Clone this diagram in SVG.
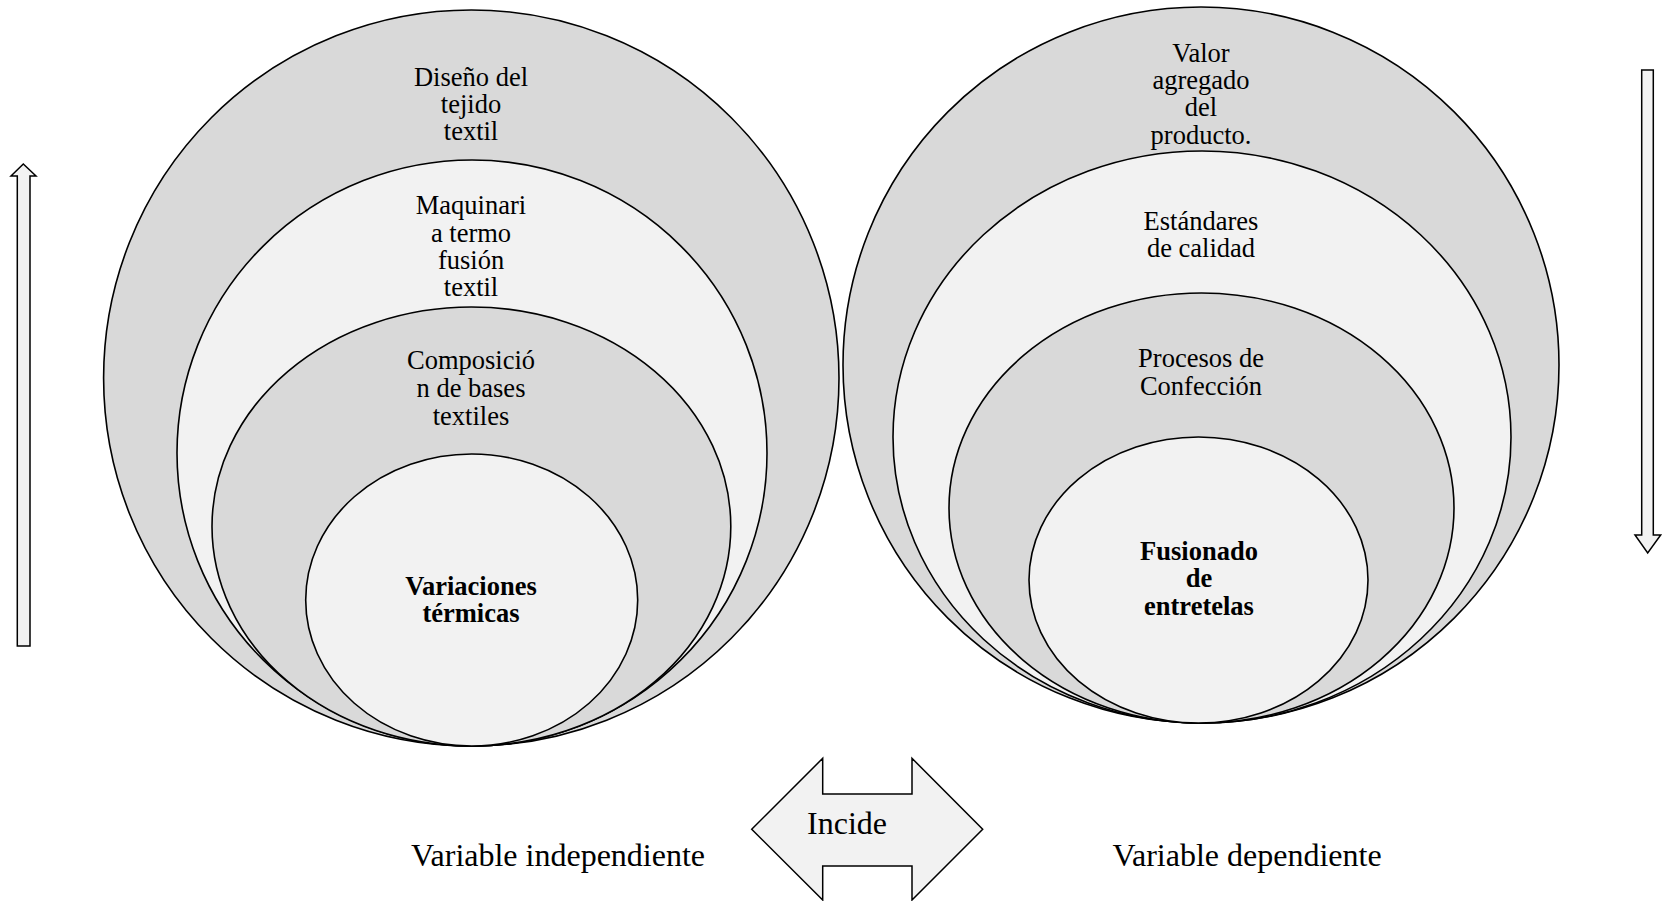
<svg xmlns="http://www.w3.org/2000/svg" width="1664" height="901" viewBox="0 0 1664 901">
<style>
.dk{fill:#d9d9d9;stroke:#000;stroke-width:1.6}
.lt{fill:#f2f2f2;stroke:#000;stroke-width:1.6}
.t{font-family:"Liberation Serif","Times New Roman",serif;font-size:26.5px;fill:#000;text-anchor:middle}
.b{font-weight:bold}
.lab{font-family:"Liberation Serif","Times New Roman",serif;font-size:32px;fill:#000;text-anchor:middle}
.arr{fill:#f2f2f2;stroke:#000;stroke-width:1.5}
</style>
<rect width="1664" height="901" fill="#fff"/>
<g id="left-group">
  <g id="diseno">
    <ellipse class="dk" cx="471.3" cy="378" rx="367.7" ry="368"/>
    <text class="t" x="471" y="86">Diseño del</text>
    <text class="t" x="471" y="113">tejido</text>
    <text class="t" x="471" y="140">textil</text>
  </g>
  <g id="maquinaria">
    <ellipse class="lt" cx="472" cy="453" rx="295" ry="293"/>
    <text class="t" x="471" y="214">Maquinari</text>
    <text class="t" x="471" y="242">a termo</text>
    <text class="t" x="471" y="269">fusión</text>
    <text class="t" x="471" y="296">textil</text>
  </g>
  <g id="composicion">
    <ellipse class="dk" cx="471.4" cy="526.5" rx="259.4" ry="219.5"/>
    <text class="t" x="471" y="369">Composició</text>
    <text class="t" x="471" y="397">n de bases</text>
    <text class="t" x="471" y="425">textiles</text>
  </g>
  <g id="variaciones">
    <ellipse class="lt" cx="471.7" cy="600" rx="166" ry="146"/>
    <text class="t b" x="471" y="595">Variaciones</text>
    <text class="t b" x="471" y="622">térmicas</text>
  </g>
</g>
<g id="right-group">
  <g id="valor">
    <ellipse class="dk" cx="1201" cy="365" rx="358" ry="358"/>
    <text class="t" x="1201" y="62">Valor</text>
    <text class="t" x="1201" y="89">agregado</text>
    <text class="t" x="1201" y="116">del</text>
    <text class="t" x="1201" y="144">producto.</text>
  </g>
  <g id="estandares">
    <ellipse class="lt" cx="1202" cy="437" rx="309" ry="286"/>
    <text class="t" x="1201" y="230">Estándares</text>
    <text class="t" x="1201" y="257">de calidad</text>
  </g>
  <g id="procesos">
    <ellipse class="dk" cx="1201.5" cy="508" rx="252.5" ry="215"/>
    <text class="t" x="1201" y="367">Procesos de</text>
    <text class="t" x="1201" y="395">Confección</text>
  </g>
  <g id="fusionado">
    <ellipse class="lt" cx="1198.5" cy="580" rx="169.5" ry="143"/>
    <text class="t b" x="1199" y="560">Fusionado</text>
    <text class="t b" x="1199" y="587">de</text>
    <text class="t b" x="1199" y="615">entretelas</text>
  </g>
</g>
<g id="connectors">
  <polygon id="up-arrow" class="arr" points="17.3,646 17.3,176 11,176 23.3,164 36,176 30,176 30,646"/>
  <polygon id="down-arrow" class="arr" points="1641.7,70 1653.3,70 1653.3,535 1660.7,535 1647.7,553 1635,535 1641.7,535"/>
  <polygon id="incide-arrow" class="arr" points="751.7,829.3 822.7,758.3 822.7,794 912,794 912,758.3 982.7,829.3 912,900 912,866 822.7,866 822.7,900"/>
  <text class="lab" x="847" y="834">Incide</text>
</g>
<text class="lab" x="558" y="866">Variable independiente</text>
<text class="lab" x="1247" y="866">Variable dependiente</text>
</svg>
